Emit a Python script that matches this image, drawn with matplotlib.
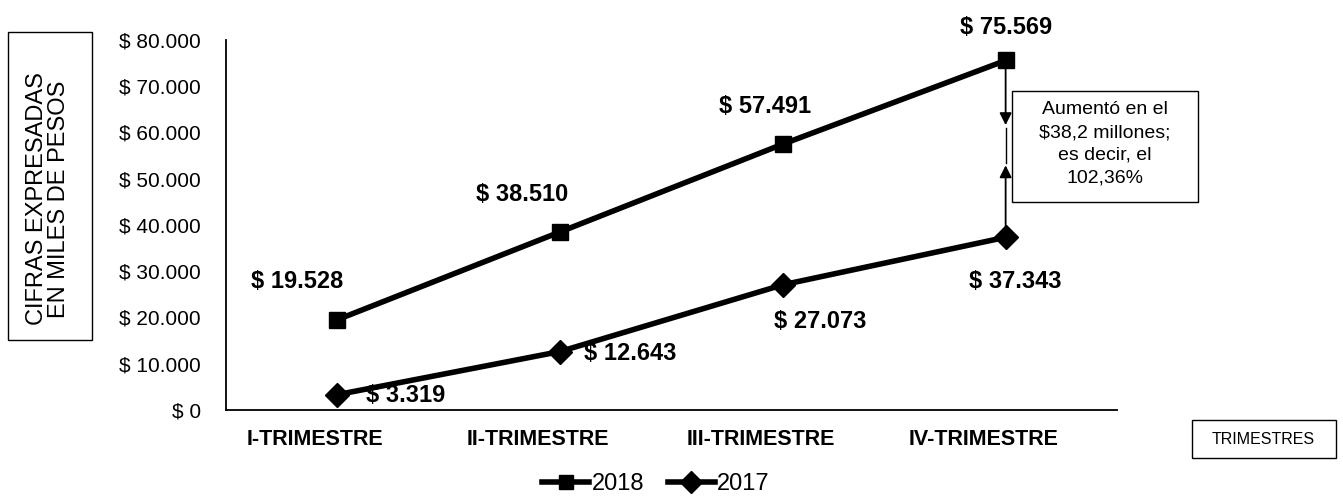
import matplotlib
matplotlib.use('Agg')
import matplotlib.pyplot as plt
import matplotlib.transforms as mtrans
from matplotlib.patches import Rectangle
from matplotlib.ticker import FuncFormatter

plt.rcParams['font.family'] = ['Liberation Sans', 'DejaVu Sans']

''' data '''
trimestres = ['I-TRIMESTRE', 'II-TRIMESTRE', 'III-TRIMESTRE', 'IV-TRIMESTRE']
v2018 = [19528, 38510, 57491, 75569]
v2017 = [3319, 12643, 27073, 37343]
yticks = [0, 10000, 20000, 30000, 40000, 50000, 60000, 70000, 80000]

# label offsets in pixels (dx, dy) from each marker
off2018 = [(-40, 38), (-38, 37), (-18, 38), (0, 33)]
off2017 = [(68, -1), (70, -2), (37, -37), (10, -44)]

W, H = 1343, 501
fig = plt.figure(figsize=(W/100, H/100), dpi=100)

def fx(px):
    return px/W

def fy(py):
    return 1 - py/H

ax = fig.add_axes([fx(226), fy(410), fx(1117)-fx(226), fy(40)-fy(410)])

x = list(range(len(trimestres)))
ax.plot(x, v2018, color='black', lw=4, marker='s', ms=11, label='2018')
ax.plot(x, v2017, color='black', lw=4, marker='D', ms=12, label='2017')

ax.set_xlim(-0.5, 3.5)
ax.set_ylim(0, 80000)
ax.set_yticks(yticks)
ax.yaxis.set_major_formatter(FuncFormatter(lambda v, p: '$ {:,.0f}'.format(v).replace(',', '.')))
ax.set_xticks(x)
ax.set_xticklabels(trimestres, fontweight='bold')
ax.tick_params(axis='y', length=0, pad=18, labelsize=15)
ax.tick_params(axis='x', length=0, pad=14, labelsize=15.5)
for lab in ax.get_xticklabels():
    lab.set_transform(lab.get_transform() + mtrans.ScaledTranslation(-22/100, 0, fig.dpi_scale_trans))

for s in ['top', 'right']:
    ax.spines[s].set_visible(False)
ax.spines['left'].set_linewidth(1.3)
ax.spines['bottom'].set_linewidth(1.3)

def fmt(v):
    return '$ {:,.0f}'.format(v).replace(',', '.')

for i, v in enumerate(v2018):
    ax.annotate(fmt(v), (i, v), xytext=off2018[i], textcoords='offset pixels',
                ha='center', va='center', fontsize=17, fontweight='bold')
for i, v in enumerate(v2017):
    ax.annotate(fmt(v), (i, v), xytext=off2017[i], textcoords='offset pixels',
                ha='center', va='center', fontsize=17, fontweight='bold')

# difference arrows between the last two points
ax.annotate('', xy=(3.0, 61000), xytext=(3.0, v2018[3]),
            arrowprops=dict(arrowstyle='-|>', color='black', lw=1.3, mutation_scale=18,
                            shrinkA=0))
ax.annotate('', xy=(3.0, 53500), xytext=(3.0, v2017[3]),
            arrowprops=dict(arrowstyle='-|>', color='black', lw=1.3, mutation_scale=18,
                            shrinkA=0))
ax.plot([3.0, 3.0], [53500, 61000], color='black', lw=1)

# note box
fig.patches.append(Rectangle((fx(1012), fy(202)), fx(1198)-fx(1012), fy(91)-fy(202),
                             transform=fig.transFigure, fill=False, ec='black', lw=1))
fig.text(fx(1105), fy(144), 'Aumentó en el\n$38,2 millones;\nes decir, el\n102,36%',
         ha='center', va='center', fontsize=14, linespacing=1.46)

# y label box
fig.patches.append(Rectangle((fx(8), fy(340)), fx(92)-fx(8), fy(32)-fy(340),
                             transform=fig.transFigure, fill=False, ec='black', lw=1))
fig.text(fx(48), fy(199), 'CIFRAS EXPRESADAS\nEN MILES DE PESOS', rotation=90,
         ha='center', va='center', fontsize=17, linespacing=1.05)

# x label box
fig.patches.append(Rectangle((fx(1192), fy(458)), fx(1336)-fx(1192), fy(420)-fy(458),
                             transform=fig.transFigure, fill=False, ec='black', lw=1))
fig.text(fx(1263), fy(439), 'TRIMESTRES', ha='center', va='center', fontsize=11.5)

fig.legend(loc='center', bbox_to_anchor=(fx(656), fy(484)), ncol=2, frameon=False,
           fontsize=17, handlelength=2.0, handletextpad=0.1, columnspacing=1.0,
           markerscale=0.9)

fig.savefig('out.png', dpi=100)
